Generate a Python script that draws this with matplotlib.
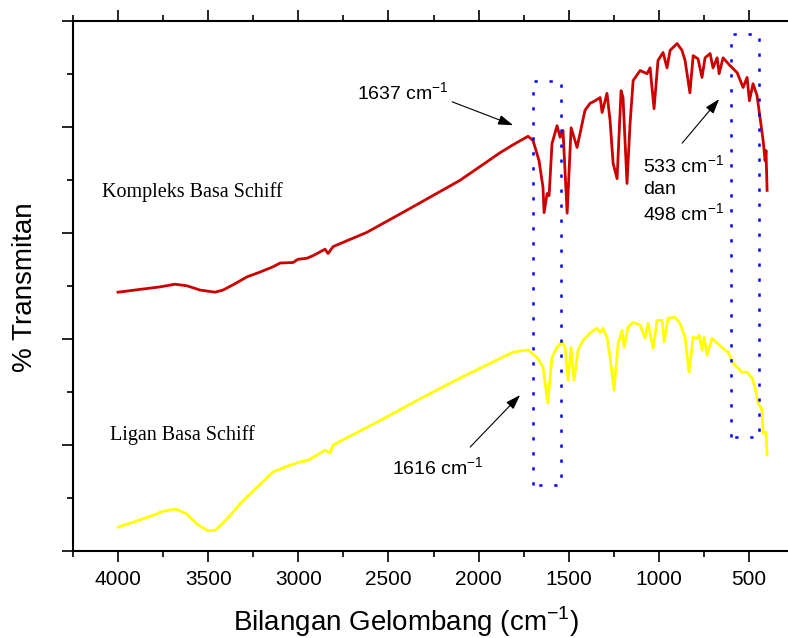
import matplotlib.pyplot as plt
from matplotlib.ticker import MultipleLocator, NullFormatter

# spektrum FTIR kompleks basa Schiff (merah)
wn_kompleks = [4000, 3861, 3767, 3684, 3617, 3545, 3462, 3418, 3362, 3284, 3212, 3140, 3101,
               3029, 3002, 2952, 2918, 2852, 2835, 2807,
               2619, 2380, 2103, 1881, 1809, 1726, 1698, 1665, 1643, 1637, 1620, 1609, 1593,
               1565, 1548, 1532, 1509, 1487, 1454, 1410, 1382, 1354, 1326, 1315, 1288, 1271,
               1254, 1232, 1210, 1199, 1177, 1160, 1143, 1104, 1066, 1049, 1027, 1005, 977,
               955, 938, 899, 872, 855, 828, 810, 783, 761, 744, 716, 700, 677, 666, 644,
               605, 566, 533, 511, 498, 478, 456, 439, 422, 411, 406, 400]
t_kompleks = [48.8, 49.4, 49.8, 50.3, 50.0, 49.2, 48.8, 49.2, 50.2, 51.7, 52.6, 53.6, 54.3,
              54.4, 55.0, 55.2, 55.7, 56.9, 56.1, 57.4,
              60.1, 64.6, 69.9, 75.1, 76.6, 78.2, 77.4, 73.6, 68.6, 63.8, 67.4, 67.0, 76.8,
              80.2, 78.0, 79.3, 63.7, 79.8, 76.1, 83.1, 84.4, 84.9, 85.5, 82.7, 86.3, 81.2,
              73.1, 70.2, 86.8, 85.5, 69.3, 80.6, 88.7, 90.6, 90.0, 91.1, 83.4, 92.5, 94.0,
              91.1, 94.4, 95.7, 94.4, 92.5, 86.4, 93.4, 92.8, 89.3, 93.0, 93.8, 91.1, 93.0,
              90.0, 93.0, 91.5, 90.2, 87.4, 89.3, 84.9, 88.1, 85.9, 81.7, 77.4, 73.6, 75.5,
              68.0]

# spektrum FTIR ligan basa Schiff (kuning)
wn_ligan = [4000, 3900, 3800, 3750, 3680, 3620, 3560, 3500, 3460, 3420, 3370, 3312, 3220,
            3140, 3060, 2990, 2946, 2852, 2824, 2807, 2563, 2308,
            2103, 1881, 1809, 1726, 1676, 1643, 1616, 1593, 1565, 1537, 1521, 1504, 1487,
            1471, 1448, 1421, 1382, 1343, 1326, 1310, 1288, 1271, 1249, 1226, 1204, 1193,
            1171, 1143, 1104, 1077, 1060, 1032, 1010, 982, 971, 949, 910, 883, 855, 833,
            810, 788, 777, 761, 749, 733, 705, 677, 644, 616, 589, 561, 539, 511, 483, 467,
            450, 428, 422, 406, 400]
t_ligan = [4.5, 5.6, 6.8, 7.5, 7.9, 7.0, 5.0, 3.8, 3.9, 5.2, 7.0, 9.3, 12.3,
           14.9, 16.0, 16.8, 17.1, 19.0, 18.5, 20.0, 24.3, 29.0,
           32.6, 36.3, 37.5, 37.9, 36.5, 34.7, 27.9, 36.5, 38.4, 39.4, 38.4, 32.2, 38.4,
           32.2, 37.9, 39.7, 41.1, 42.0, 41.2, 42.0, 40.3, 36.5, 30.3, 39.2, 41.6, 38.4,
           42.2, 43.1, 42.6, 40.1, 42.9, 38.2, 43.5, 43.5, 39.4, 43.9, 44.1, 42.9, 40.3, 33.7,
           40.3, 40.1, 40.7, 37.9, 40.3, 36.9, 40.1, 39.2, 38.2, 37.5, 35.4, 34.5, 33.7,
           33.7, 32.6, 30.9, 27.9, 26.6, 22.2, 22.4, 18.1]

# kotak penanda daerah pita (wn kiri, wn kanan, T bawah, T atas)
kotak_cn = [1698, 1543, 12.4, 88.7]
kotak_mo = [600, 444, 21.5, 97.5]

plt.rcParams['font.family'] = ['Liberation Sans', 'DejaVu Sans']
plt.rcParams['mathtext.fontset'] = 'custom'
plt.rcParams['mathtext.rm'] = 'Liberation Sans'

fig = plt.figure(figsize=(7.88, 6.38), dpi=100)
ax = fig.add_axes([0.0926, 0.1364, 0.9074, 0.8312])

ax.plot(wn_kompleks, t_kompleks, color='#cc0000', lw=2, solid_joinstyle='round')
ax.plot(wn_ligan, t_ligan, color='#ffff00', lw=2, solid_joinstyle='round')

for k in [kotak_cn, kotak_mo]:
    x0, x1, y0, y1 = k
    ax.plot([x0, x0, x1, x1, x0], [y0, y1, y1, y0, y0], color='#0000ff', lw=1.8,
            linestyle=(0, (1.3, 4.7)))

ax.set_xlim(4250, 284)
ax.set_ylim(0, 100)

ax.text(4089, 67.7, 'Kompleks Basa Schiff', family='Liberation Serif', fontsize=14.5,
        va='center', ha='left')
ax.text(4044, 21.9, 'Ligan Basa Schiff', family='Liberation Serif', fontsize=14.5,
        va='center', ha='left')

sup = 'cm$^{\\mathrm{-1}}$'
panah = dict(arrowstyle='-|>,head_length=0.9,head_width=0.3', color='black', lw=0.8,
             shrinkA=0, shrinkB=0)
ax.annotate('', xy=(1809, 80.3), xytext=(2147, 84.7), arrowprops=panah)
ax.text(2674, 86.4, '1637 ' + sup, fontsize=14, va='center', ha='left')
ax.annotate('', xy=(1770, 29.4), xytext=(2047, 19.6), arrowprops=panah)
ax.text(2480, 15.7, '1616 ' + sup, fontsize=14, va='center', ha='left')
ax.annotate('', xy=(666, 85.2), xytext=(871, 76.9), arrowprops=panah)
ax.text(1088, 68.1, '533 ' + sup + '\ndan\n498 ' + sup, fontsize=14, va='center',
        ha='left', linespacing=1.25)

ax.spines['right'].set_visible(False)
for s in ['left', 'bottom', 'top']:
    ax.spines[s].set_linewidth(1.5)

ax.xaxis.set_major_locator(MultipleLocator(500))
ax.xaxis.set_minor_locator(MultipleLocator(250))
ax.yaxis.set_major_locator(MultipleLocator(20))
ax.yaxis.set_minor_locator(MultipleLocator(10))
ax.yaxis.set_major_formatter(NullFormatter())
ax.tick_params(axis='x', which='both', direction='out', top=True, labeltop=False)
ax.tick_params(axis='y', which='both', direction='out')
ax.tick_params(which='major', length=8, width=1.2, labelsize=15, pad=6)
ax.tick_params(which='minor', length=4, width=1.2)

fig.text(0.515, 0.025, 'Bilangan Gelombang (cm$^{\\mathrm{-1}}$)', fontsize=20,
         ha='center', va='center')
fig.text(0.032, 0.55, '% Transmitan', fontsize=20, rotation=90, ha='center', va='center')

plt.savefig('out.png', dpi=100)
